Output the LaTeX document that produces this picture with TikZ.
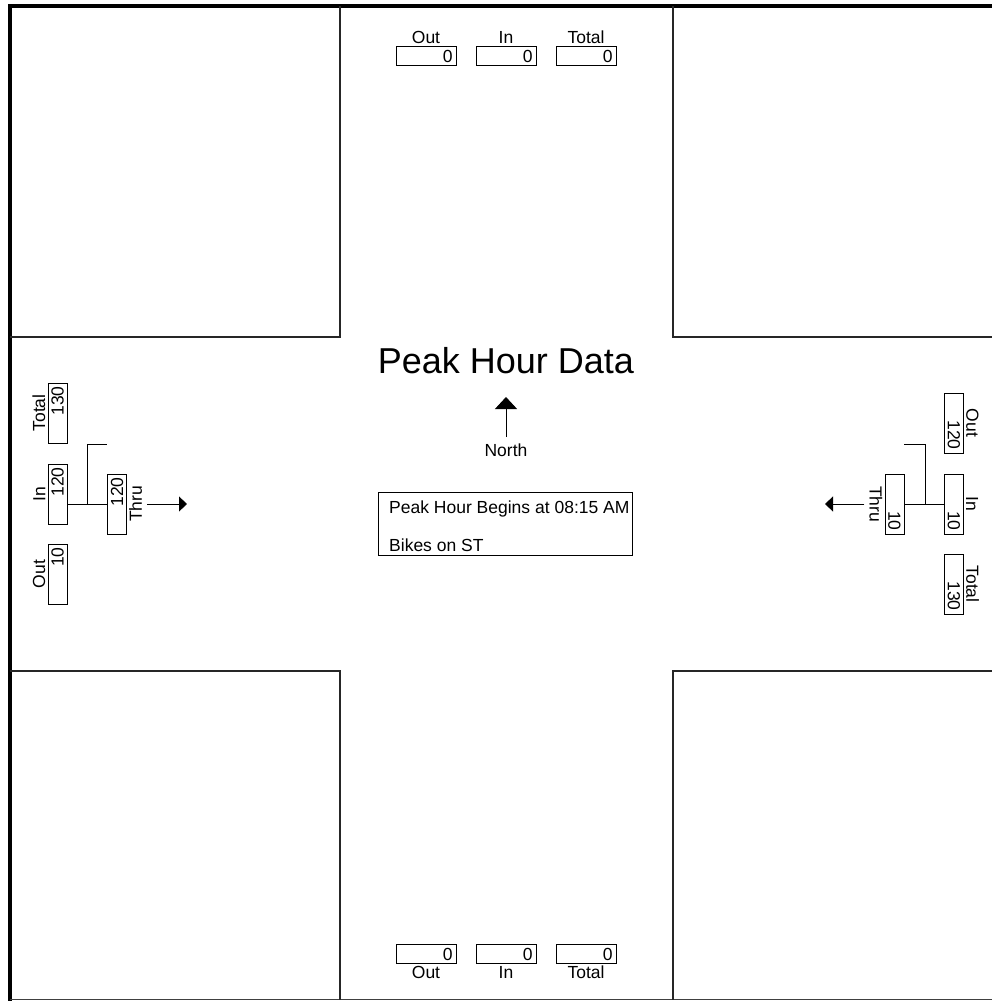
\documentclass[tikz,border=0pt]{standalone}
\usepackage{fontspec}
\setmainfont{Liberation Sans}
\usetikzlibrary{arrows.meta}
\newcommand{\lblsize}{\fontsize{17.5}{20}\selectfont}

\begin{document}
\begin{tikzpicture}[x=1pt,y=-1pt,
        vol/.style={draw,line width=0.8pt,minimum width=60pt,minimum height=19pt,
            text width=53pt,align=right,inner xsep=3.5pt,inner ysep=0pt,font=\lblsize},
        lbl/.style={inner sep=2pt,font=\lblsize},
        wall/.style={line width=1.3pt,black!85},
        thru/.style={-{Triangle[length=8pt,width=15pt]},line width=0.8pt,shorten <=3pt}]
        \useasboundingbox (0,0) rectangle (992,1001);

        % ~~~~ Frame ~~~~ %
        \draw[line width=4pt] (992,6) -- (9.5,6) -- (9.5,1001);
        \draw[line width=1.5pt,black!75] (9.5,999.5) -- (992,999.5);

        % ~~~~ Corner blocks ~~~~ %
        \draw[wall] (340,6) -- (340,337) -- (9.5,337);
        \draw[wall] (673,6) -- (673,337) -- (992,337);
        \draw[wall] (9.5,671) -- (340,671) -- (340,999.5);
        \draw[wall] (992,671) -- (673,671) -- (673,999.5);

        % ~~~~ North leg ~~~~ %
        \node[vol] (outN) at (426,56) {0};
        \node[vol] (inN) at (506,56) {0};
        \node[vol] (totN) at (586,56) {0};
        \node[lbl,anchor=south] (outNl) at (outN.north) {Out};
        \node[lbl,anchor=south] (inNl) at (inN.north) {In};
        \node[lbl,anchor=south] (totNl) at (totN.north) {Total};

        % ~~~~ South leg ~~~~ %
        \node[vol] (outS) at (426,954) {0};
        \node[vol] (inS) at (506,954) {0};
        \node[vol] (totS) at (586,954) {0};
        \node[lbl,anchor=north] (outSl) at (outS.south) {Out};
        \node[lbl,anchor=north] (inSl) at (inS.south) {In};
        \node[lbl,anchor=north] (totSl) at (totS.south) {Total};

        % ~~~~ West leg ~~~~ %
        \node[vol,rotate=90] (totW) at (57.5,413) {130};
        \node[vol,rotate=90] (inW) at (57.5,494) {120};
        \node[vol,rotate=90] (outW) at (57.5,574) {10};
        \node[vol,rotate=90] (thruW) at (117,504) {120};
        \node[lbl,rotate=90,anchor=south] (totWl) at (totW.north) {Total};
        \node[lbl,rotate=90,anchor=south] (inWl) at (inW.north) {In};
        \node[lbl,rotate=90,anchor=south] (outWl) at (outW.north) {Out};
        \node[lbl,rotate=90,anchor=north] (thruWl) at (thruW.south) {Thru};
        \coordinate (stubW) at (87,444);
        \coordinate (tipW) at (187,504);
        \draw[line width=0.8pt] (inW.south |- thruW) -- (thruW.north);
        \draw[line width=0.8pt] (stubW |- thruW) -- (stubW) -- (stubW -| thruW.north);
        \draw[thru] (thruWl) -- (tipW);

        % ~~~~ East leg ~~~~ %
        \node[vol,rotate=-90] (outE) at (954,423) {120};
        \node[vol,rotate=-90] (inE) at (954,504) {10};
        \node[vol,rotate=-90] (totE) at (954,584) {130};
        \node[vol,rotate=-90] (thruE) at (894.5,504) {10};
        \node[lbl,rotate=-90,anchor=south] (outEl) at (outE.north) {Out};
        \node[lbl,rotate=-90,anchor=south] (inEl) at (inE.north) {In};
        \node[lbl,rotate=-90,anchor=south] (totEl) at (totE.north) {Total};
        \node[lbl,rotate=-90,anchor=north] (thruEl) at (thruE.south) {Thru};
        \coordinate (stubE) at (925,444);
        \coordinate (tipE) at (825,504);
        \draw[line width=0.8pt] (thruE.north) -- (inE.south);
        \draw[line width=0.8pt] (stubE |- thruE) -- (stubE) -- (stubE -| thruE.north);
        \draw[thru] (thruEl) -- (tipE);

        % ~~~~ Centre ~~~~ %
        \node[font=\fontsize{36}{42}\selectfont,anchor=base] (title) at (506,373) {Peak Hour Data};
        \node[lbl,anchor=base] (northl) at (506,456) {North};
        \coordinate (tipN) at (506,397);
        \draw[-{Triangle[length=12pt,width=22pt]},line width=0.8pt,shorten <=4pt] (northl) -- (tipN);
        \node[draw,line width=0.8pt,minimum width=254pt,minimum height=63pt,anchor=north west] (info) at (378,492) {};
        \node[lbl,anchor=base west] (infoA) at ([shift={(9,21)}]info.north west) {Peak Hour Begins at 08:15 AM};
        \node[lbl,anchor=base west] (infoB) at ([shift={(9,59)}]info.north west) {Bikes on ST};
    \end{tikzpicture}
\end{document}
